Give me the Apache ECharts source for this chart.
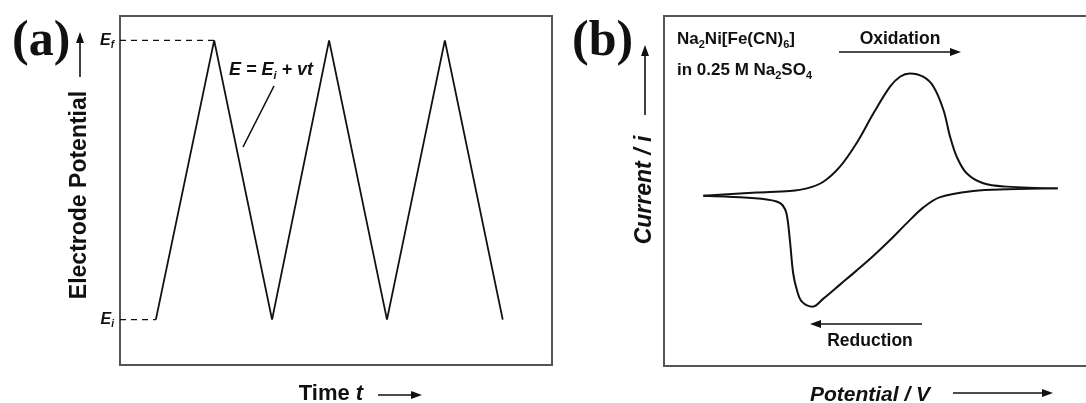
<!DOCTYPE html>
<html>
<head>
<meta charset="utf-8" />
<title>ECharts</title>
<style type="text/css">
  html, body { margin: 0; padding: 0; background: #fff; }
  #main { width: 1086px; height: 403px; }
</style>
<script type="text/javascript" src="https://cdn.jsdelivr.net/npm/echarts@6.0.0/dist/echarts.min.js"></script>
</head>
<body>
<div id="main"></div>
<script type="text/javascript">
// (a) triangular sweep, potential between Ei and Ef
var Ei = 13, Ef = 93;
var sweepTime = [8.3, 21.8, 35.2, 48.4, 61.8, 75.2, 88.6];
var sweepE = [Ei, Ef, Ei, Ef, Ei, Ef, Ei];

// (b) cyclic voltammogram, arbitrary units
var oxPotential = [9.5, 22.4, 30.4, 34.5, 38.5, 42.5, 46.5, 50.6, 54.6, 57.0, 59.4, 62.6, 65.1, 67.5, 69.1, 70.7, 73.1, 77.1, 82.8, 95.1];
var oxCurrent = [-2.7, -0.9, 0, 1.5, 5.3, 13.9, 27.3, 44.4, 59.6, 65.3, 67.2, 65.3, 59.6, 46.3, 31.0, 19.6, 10.1, 4.4, 2.5, 1.5];
var redPotential = [95.1, 82.8, 74.7, 66.7, 62.6, 58.6, 54.6, 50.6, 46.5, 42.5, 38.5, 35.9, 33.3, 32.1, 31.2, 30.4, 29.6, 28.6, 27.2, 24.8, 18.4, 9.5];
var redCurrent = [1.5, 1.0, 0, -3.5, -9.5, -18.5, -28, -37, -45.5, -53.5, -61.5, -66.1, -63.2, -56.6, -47, -28, -13, -8, -6, -4.8, -3.6, -2.7];

function zip(a, b) {
  return a.map(function (v, i) { return [v, b[i]]; });
}

var ink = '#111';
var sans = '"Liberation Sans", Arial, sans-serif';

function arrow(x1, y1, x2, y2) {
  var ang = Math.atan2(y2 - y1, x2 - x1);
  var L = 11, W = 4;
  var bx = x2 - L * Math.cos(ang), by = y2 - L * Math.sin(ang);
  var px = -Math.sin(ang) * W, py = Math.cos(ang) * W;
  return [
    { type: 'line', shape: { x1: x1, y1: y1, x2: bx, y2: by }, style: { stroke: ink, lineWidth: 1.6 } },
    { type: 'polygon', shape: { points: [[x2, y2], [bx + px, by + py], [bx - px, by - py]] }, style: { fill: ink } }
  ];
}

function txt(x, y, text, opt) {
  var st = Object.assign({ text: text, fill: ink, fontFamily: sans, fontWeight: 'bold', fontSize: 16, align: 'left', verticalAlign: 'middle' }, opt.style || {});
  return { type: 'text', x: x, y: y, rotation: opt.rotation || 0, style: st };
}

var subRich = {
  n: { fontFamily: sans, fontWeight: 'bold', fontSize: 17, lineHeight: 22, verticalAlign: 'middle', fill: ink },
  s: { fontFamily: sans, fontWeight: 'bold', fontSize: 11, lineHeight: 11, verticalAlign: 'bottom', fill: ink }
};
var eqRich = {
  n: { fontFamily: sans, fontWeight: 'bold', fontStyle: 'italic', fontSize: 18, lineHeight: 22, verticalAlign: 'middle', fill: ink },
  s: { fontFamily: sans, fontWeight: 'bold', fontStyle: 'italic', fontSize: 11, lineHeight: 10, verticalAlign: 'bottom', fill: ink }
};

var graphics = [
  txt(12, 42, '(a)', { style: { fontFamily: '"Liberation Serif", "Times New Roman", serif', fontSize: 50 } }),
  txt(572, 42, '(b)', { style: { fontFamily: '"Liberation Serif", "Times New Roman", serif', fontSize: 50 } }),
  txt(80, 195, 'Electrode Potential', { rotation: Math.PI / 2, style: { fontSize: 23, align: 'center' } }),
  txt(645, 190, 'Current / i', { rotation: Math.PI / 2, style: { fontSize: 23, fontStyle: 'italic', align: 'center' } }),
  txt(331, 394, '{n|Time }{i|t}', { style: { align: 'center', rich: {
    n: { fontFamily: sans, fontWeight: 'bold', fontSize: 22, fill: ink },
    i: { fontFamily: sans, fontWeight: 'bold', fontStyle: 'italic', fontSize: 22, fill: ink }
  } } }),
  txt(870, 395, 'Potential / V', { style: { fontSize: 21, fontStyle: 'italic', align: 'center' } }),
  txt(229, 70, '{n|E = E}{s|i}{n| + vt}', { style: { rich: eqRich } }),
  { type: 'line', shape: { x1: 274, y1: 86, x2: 243, y2: 147 }, style: { stroke: ink, lineWidth: 1.6 } },
  txt(677, 39, '{n|Na}{s|2}{n|Ni[Fe(CN)}{s|6}{n|]}', { style: { rich: subRich } }),
  txt(677, 70, '{n|in 0.25 M Na}{s|2}{n|SO}{s|4}', { style: { rich: subRich } }),
  txt(900, 39, 'Oxidation', { style: { fontSize: 17.5, align: 'center' } }),
  txt(870, 341, 'Reduction', { style: { fontSize: 17.5, align: 'center' } })
]
  .concat(arrow(80, 77, 80, 32))
  .concat(arrow(645, 115, 645, 45))
  .concat(arrow(378, 395, 422, 395))
  .concat(arrow(953, 393, 1053, 393))
  .concat(arrow(839, 52, 961, 52))
  .concat(arrow(922, 324, 810, 324));

var dom = document.getElementById('main');
var myChart = echarts.init(dom, null, { renderer: 'canvas' });

var eRich = {
  e: { fontFamily: sans, fontWeight: 'bold', fontStyle: 'italic', fontSize: 16, lineHeight: 20, verticalAlign: 'middle', color: ink },
  s: { fontFamily: sans, fontWeight: 'bold', fontStyle: 'italic', fontSize: 10, lineHeight: 10, verticalAlign: 'bottom', color: ink }
};

var option = {
  animation: false,
  backgroundColor: '#fff',
  grid: [
    { left: 120, top: 16, width: 432, height: 349, show: true, borderColor: '#555', borderWidth: 2, backgroundColor: 'transparent' },
    { left: 664, top: 16, width: 443, height: 350, outerBoundsMode: 'none', show: true, borderColor: '#555', borderWidth: 2, backgroundColor: 'transparent' }
  ],
  xAxis: [
    { gridIndex: 0, type: 'value', min: 0, max: 100, show: false },
    { gridIndex: 1, type: 'value', min: 0, max: 107, show: false }
  ],
  yAxis: [
    {
      gridIndex: 0, type: 'value', min: 0, max: 100,
      axisLine: { show: false }, axisTick: { show: false }, splitLine: { show: false },
      axisLabel: {
        customValues: [Ei, Ef], margin: 6,
        formatter: function (v) { return v === Ef ? '{e|E}{s|f}' : '{e|E}{s|i}'; },
        rich: eRich
      }
    },
    { gridIndex: 1, type: 'value', min: -100, max: 100, show: false }
  ],
  series: [
    {
      type: 'line', xAxisIndex: 0, yAxisIndex: 0, symbol: 'none',
      data: [[0, Ef], [sweepTime[1], Ef]],
      lineStyle: { color: ink, width: 1.3, type: [6, 5] }
    },
    {
      type: 'line', xAxisIndex: 0, yAxisIndex: 0, symbol: 'none',
      data: [[0, Ei], [sweepTime[0], Ei]],
      lineStyle: { color: ink, width: 1.3, type: [6, 5] }
    },
    {
      type: 'line', xAxisIndex: 0, yAxisIndex: 0, symbol: 'none',
      data: zip(sweepTime, sweepE),
      lineStyle: { color: ink, width: 1.8 }
    },
    {
      type: 'line', xAxisIndex: 1, yAxisIndex: 1, symbol: 'none', smooth: 0.35,
      data: zip(oxPotential, oxCurrent),
      lineStyle: { color: ink, width: 2 }
    },
    {
      type: 'line', xAxisIndex: 1, yAxisIndex: 1, symbol: 'none', smooth: 0.35,
      data: zip(redPotential, redCurrent),
      lineStyle: { color: ink, width: 2 }
    }
  ],
  graphic: graphics
};

myChart.setOption(option);
</script>
</body>
</html>
